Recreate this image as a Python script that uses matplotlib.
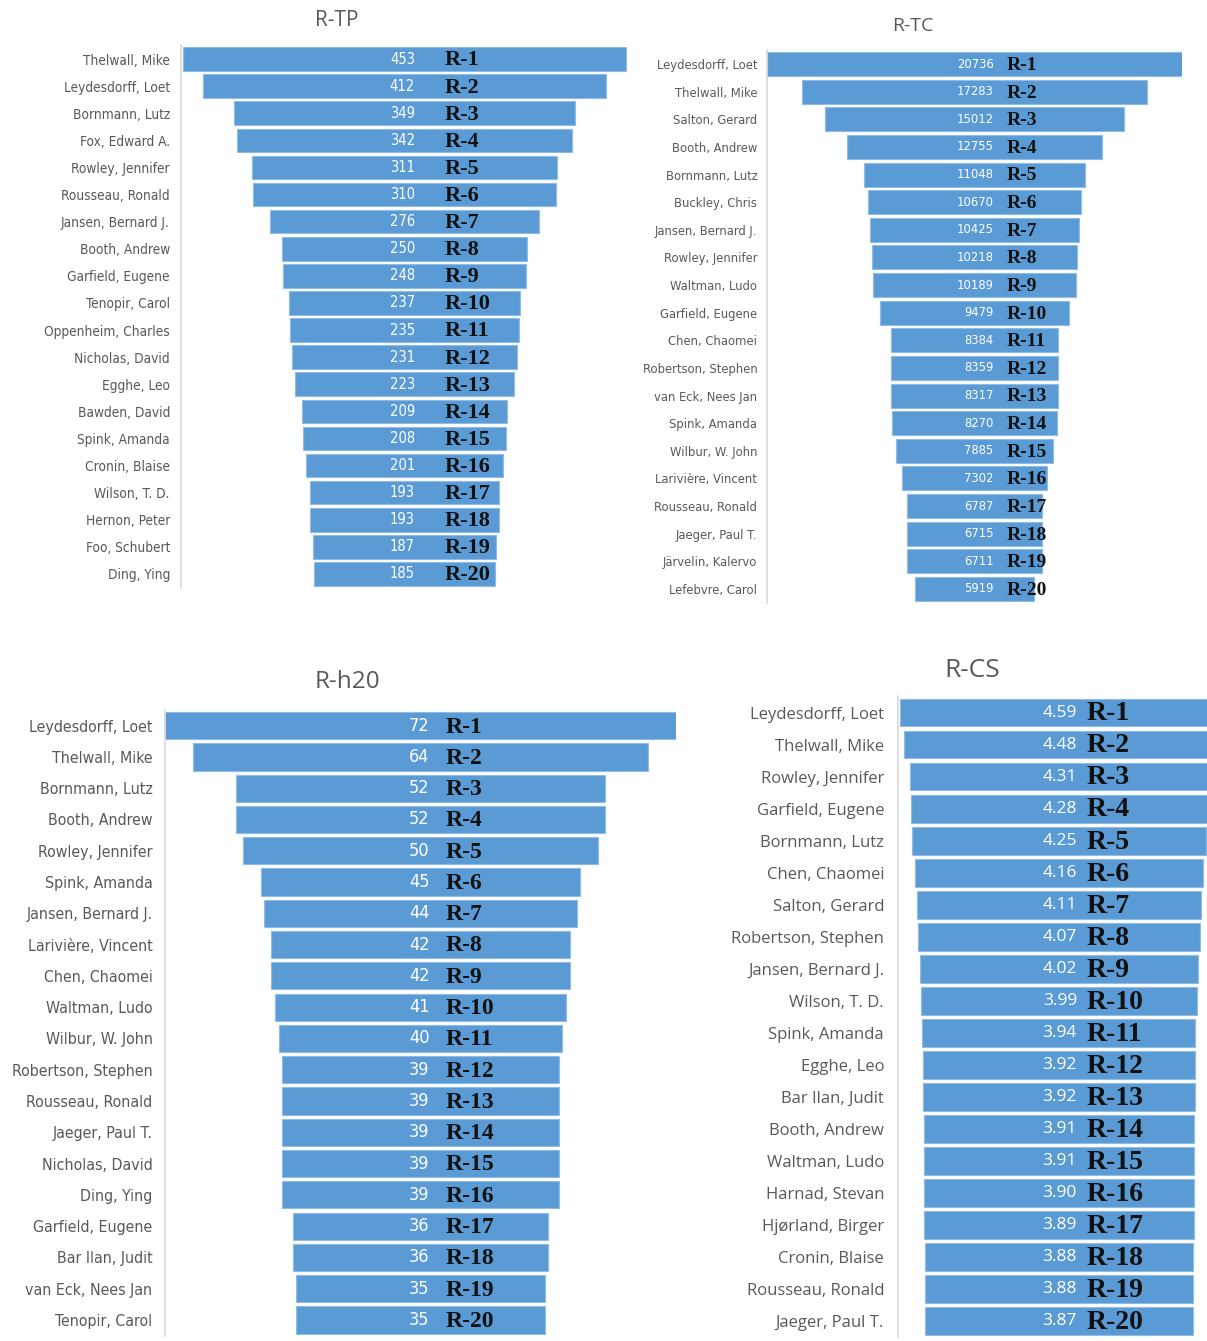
import matplotlib.pyplot as plt

W, H = 1207, 1341

tp_names = ["Thelwall, Mike", "Leydesdorff, Loet", "Bornmann, Lutz", "Fox, Edward A.",
            "Rowley, Jennifer", "Rousseau, Ronald", "Jansen, Bernard J.", "Booth, Andrew",
            "Garfield, Eugene", "Tenopir, Carol", "Oppenheim, Charles", "Nicholas, David",
            "Egghe, Leo", "Bawden, David", "Spink, Amanda", "Cronin, Blaise",
            "Wilson, T. D.", "Hernon, Peter", "Foo, Schubert", "Ding, Ying"]
tp_values = [453, 412, 349, 342, 311, 310, 276, 250, 248, 237,
             235, 231, 223, 209, 208, 201, 193, 193, 187, 185]

tc_names = ["Leydesdorff, Loet", "Thelwall, Mike", "Salton, Gerard", "Booth, Andrew",
            "Bornmann, Lutz", "Buckley, Chris", "Jansen, Bernard J.", "Rowley, Jennifer",
            "Waltman, Ludo", "Garfield, Eugene", "Chen, Chaomei", "Robertson, Stephen",
            "van Eck, Nees Jan", "Spink, Amanda", "Wilbur, W. John", "Larivière, Vincent",
            "Rousseau, Ronald", "Jaeger, Paul T.", "Järvelin, Kalervo", "Lefebvre, Carol"]
tc_values = [20736, 17283, 15012, 12755, 11048, 10670, 10425, 10218, 10189, 9479,
             8384, 8359, 8317, 8270, 7885, 7302, 6787, 6715, 6711, 5919]

h20_names = ["Leydesdorff, Loet", "Thelwall, Mike", "Bornmann, Lutz", "Booth, Andrew",
             "Rowley, Jennifer", "Spink, Amanda", "Jansen, Bernard J.", "Larivière, Vincent",
             "Chen, Chaomei", "Waltman, Ludo", "Wilbur, W. John", "Robertson, Stephen",
             "Rousseau, Ronald", "Jaeger, Paul T.", "Nicholas, David", "Ding, Ying",
             "Garfield, Eugene", "Bar Ilan, Judit", "van Eck, Nees Jan", "Tenopir, Carol"]
h20_values = [72, 64, 52, 52, 50, 45, 44, 42, 42, 41,
              40, 39, 39, 39, 39, 39, 36, 36, 35, 35]

cs_names = ["Leydesdorff, Loet", "Thelwall, Mike", "Rowley, Jennifer", "Garfield, Eugene",
            "Bornmann, Lutz", "Chen, Chaomei", "Salton, Gerard", "Robertson, Stephen",
            "Jansen, Bernard J.", "Wilson, T. D.", "Spink, Amanda", "Egghe, Leo",
            "Bar Ilan, Judit", "Booth, Andrew", "Waltman, Ludo", "Harnad, Stevan",
            "Hjørland, Birger", "Cronin, Blaise", "Rousseau, Ronald", "Jaeger, Paul T."]
cs_values = [4.59, 4.48, 4.31, 4.28, 4.25, 4.16, 4.11, 4.07, 4.02, 3.99,
             3.94, 3.92, 3.92, 3.91, 3.91, 3.90, 3.89, 3.88, 3.88, 3.87]

BLUE = "#5b9bd5"
GREY = "#595959"
NARROW = dict(family=["DejaVu Sans"], stretch="condensed")
SANS = dict(family=["Open Sans", "DejaVu Sans"])
SERIF = ["Liberation Serif", "DejaVu Serif"]


def px_axes(fig, left, top, right, bottom):
    return fig.add_axes([left / W, 1 - bottom / H, (right - left) / W, (bottom - top) / H])


def funnel(ax, names, values, xlim, fmt, font, name_size, name_pad,
           value_size, value_off, rank_size, rank_off):
    y = list(range(len(values)))
    lefts = [-v / 2 for v in values]
    ax.barh(y, values, left=lefts, height=0.87, color=BLUE,
            edgecolor="#8fbbe6", linewidth=0.8)
    ax.set_xlim(*xlim)
    ax.set_ylim(len(values) - 0.5, -0.5)
    ax.set_yticks(y)
    ax.set_yticklabels(names, fontsize=name_size, color=GREY, **font)
    ax.tick_params(axis="y", length=0, pad=name_pad)
    ax.set_xticks([])
    for s in ["top", "right", "bottom"]:
        ax.spines[s].set_visible(False)
    ax.spines["left"].set_color("#d9d9d9")
    ax.spines["left"].set_linewidth(1.2)
    for i, v in enumerate(values):
        ax.annotate(fmt.format(v), xy=(0, i), xytext=(value_off, 0),
                    textcoords="offset points", ha="right", va="center",
                    color="white", fontsize=value_size, **font)
        ax.annotate("R-%d" % (i + 1), xy=(0, i), xytext=(rank_off, -1),
                    textcoords="offset points", ha="left", va="center",
                    color="#111111", family=SERIF, fontweight="bold",
                    fontsize=rank_size)


fig = plt.figure(figsize=(W / 100, H / 100), dpi=100)

# R-TP
ax = px_axes(fig, 181, 45.5, 628, 587.5)
funnel(ax, tp_names, tp_values, (-228.5, 228.5), "{:.0f}", NARROW, 9.8, 8,
       10.5, 7.6, 16, 28.8)
fig.text(337 / W, 1 - 20 / H, "R-TP", ha="center", va="center",
         fontsize=15, color=GREY, **SANS)

# R-TC
ax = px_axes(fig, 767, 50.2, 1182, 602.8)
funnel(ax, tc_names, tc_values, (-10391, 10391), "{:.0f}", NARROW, 9.3, 7,
       9.3, 13.7, 14, 23)
fig.text(913 / W, 1 - 26 / H, "R-TC", ha="center", va="center",
         fontsize=14, color=GREY, **SANS)

# R-h20
ax = px_axes(fig, 165, 710, 676, 1335.6)
funnel(ax, h20_names, h20_values, (-36.0, 36.0), "{:.0f}", NARROW, 11.4, 9,
       13, 6.5, 17, 18)
fig.text(347 / W, 1 - 682 / H, "R-h20", ha="center", va="center",
         fontsize=17.5, color=GREY, **SANS)

# R-CS
ax = px_axes(fig, 898, 696.5, 1207, 1337)
funnel(ax, cs_names, cs_values, (-2.323, 2.136), "{:.2f}", SANS, 12, 10,
       12.5, 13, 20, 20)
fig.text(972 / W, 1 - 670 / H, "R-CS", ha="center", va="center",
         fontsize=19, color=GREY, **SANS)

fig.savefig("out.png", dpi=100)
plt.close(fig)
